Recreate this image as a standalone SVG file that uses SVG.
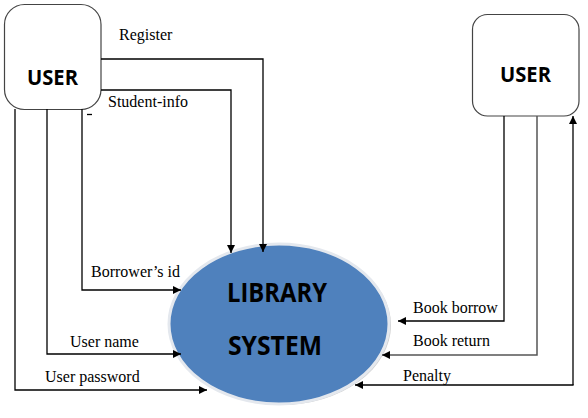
<svg xmlns="http://www.w3.org/2000/svg" width="588" height="418" viewBox="0 0 588 418">
<defs>
<style>
.box{fill:#fff;stroke:#444;stroke-width:1.2}
.ent{font-family:"Open Sans","Liberation Sans",sans-serif;font-weight:bold;fill:#000}
.lbl{font-family:"Liberation Serif","Times New Roman",serif;font-size:16px;fill:#000}
.ln{fill:none;stroke:#000;stroke-width:1.3}
.lg{fill:none;stroke:#555;stroke-width:1.5}
</style>
<marker id="ah" viewBox="0 0 10 10" refX="10" refY="5" markerWidth="9" markerHeight="8" markerUnits="userSpaceOnUse" orient="auto">
<path d="M0,0 L10,5 L0,10 z" fill="#000"/>
</marker>
</defs>
<rect width="588" height="418" fill="#fff"/>
<g id="user-left">
<rect class="box" x="4.5" y="4.5" width="96.5" height="105" rx="20" ry="20"/>
<text class="ent" x="52.5" y="85" font-size="21" text-anchor="middle" textLength="51" lengthAdjust="spacingAndGlyphs">USER</text>
</g>
<g id="user-right">
<rect class="box" x="472.5" y="14.5" width="106.5" height="101.5" rx="15" ry="15"/>
<text class="ent" x="525.5" y="82" font-size="21" text-anchor="middle" textLength="51" lengthAdjust="spacingAndGlyphs">USER</text>
</g>
<g id="library-system">
<ellipse cx="281" cy="325" rx="110" ry="80" fill="#9a9a9a" opacity="0.5"/>
<ellipse cx="279" cy="324" rx="110" ry="80" fill="#4f81bd" stroke="#e4e8ee" stroke-width="3"/>
<text class="ent" x="277" y="302" font-size="27" text-anchor="middle" textLength="100" lengthAdjust="spacingAndGlyphs">LIBRARY</text>
<text class="ent" x="275" y="355" font-size="27" text-anchor="middle" textLength="94" lengthAdjust="spacingAndGlyphs">SYSTEM</text>
</g>
<g id="connectors">
<polyline class="ln" points="101,59 263,59 263,252" marker-end="url(#ah)"/>
<polyline class="ln" points="101,90 231,90 231,253" marker-end="url(#ah)"/>
<polyline class="ln" points="82,109 82,290 181,290" marker-end="url(#ah)"/>
<polyline class="ln" points="47,109 47,354 181,354" marker-end="url(#ah)"/>
<polyline class="ln" points="15,109 15,390 207,390" marker-end="url(#ah)"/>
<polyline class="ln" points="504,116 504,321 398,321" marker-end="url(#ah)"/>
<polyline class="lg" points="537,116 537,355 382,355" marker-end="url(#ah)"/>
<polyline class="ln" points="573,385 573,116" marker-end="url(#ah)"/>
<polyline class="ln" points="573.6,385 355,385" marker-end="url(#ah)"/>
<line class="ln" x1="87" y1="114.5" x2="92" y2="114.5"/>
</g>
<g id="labels">
<text class="lbl" x="119" y="40">Register</text>
<text class="lbl" x="108" y="107">Student-info</text>
<text class="lbl" x="91" y="277">Borrower’s id</text>
<text class="lbl" x="70" y="347">User name</text>
<text class="lbl" x="45" y="382">User password</text>
<text class="lbl" x="413" y="313">Book borrow</text>
<text class="lbl" x="413" y="346">Book return</text>
<text class="lbl" x="403" y="381">Penalty</text>
</g>
</svg>
